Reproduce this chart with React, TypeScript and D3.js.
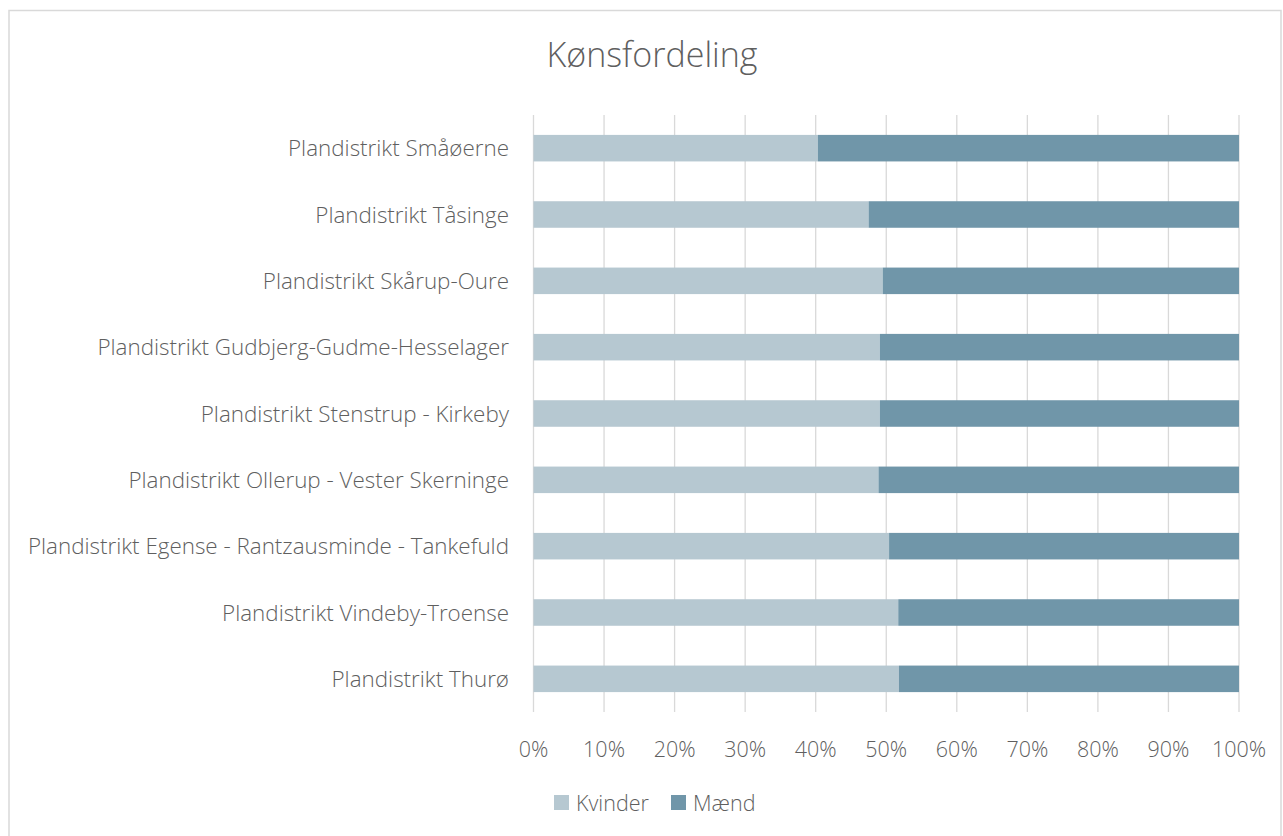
import React from "react";
import * as d3 from "d3";

const categories = [
  "Plandistrikt Småøerne",
  "Plandistrikt Tåsinge",
  "Plandistrikt Skårup-Oure",
  "Plandistrikt Gudbjerg-Gudme-Hesselager",
  "Plandistrikt Stenstrup - Kirkeby",
  "Plandistrikt Ollerup - Vester Skerninge",
  "Plandistrikt Egense - Rantzausminde - Tankefuld",
  "Plandistrikt Vindeby-Troense",
  "Plandistrikt Thurø",
];
const kvinder = [0.403, 0.475, 0.495, 0.491, 0.491, 0.489, 0.504, 0.517, 0.518];
const maend = kvinder.map((k) => 1 - k);
const ticks = [0, 0.1, 0.2, 0.3, 0.4, 0.5, 0.6, 0.7, 0.8, 0.9, 1];
const seriesNames = ["Kvinder", "Mænd"];
const colors = ["#B6C8D1", "#7096A9"];

export default function App() {
  const W = 1283, H = 836;
  const x = d3.scaleLinear().domain([0, 1]).range([533.5, 1239]);
  const y = d3.scaleBand().domain(categories).range([115, 712]).paddingInner(0.6).paddingOuter(0.3);
  const font = "'Open Sans', 'Noto Sans', sans-serif";
  const textColor = "#5f5f5f";
  const fs = 21.5;
  const stacked = categories.map((c, i) => ({ c, k: kvinder[i], m: maend[i] }));
  return (
    <svg width={W} height={H} style={{ position: "absolute", left: 0, top: 0 }}>
      <rect x={0} y={0} width={W} height={H} fill="#fff" />
      <rect x={9} y={10.5} width={1272} height={830} fill="#fff" stroke="#d9d9d9" strokeWidth={1.5} />
      <text x={652} y={67} textAnchor="middle" fontFamily={font} fontSize={34} fontWeight={300} fill={textColor}>
        Kønsfordeling
      </text>
      {ticks.map((t) => (
        <line key={t} x1={x(t)} x2={x(t)} y1={115} y2={712} stroke="#d9d9d9" strokeWidth={1.3} />
      ))}
      {stacked.map((d) => (
        <g key={d.c}>
          <rect x={x(0)} y={y(d.c)!} width={x(d.k) - x(0)} height={y.bandwidth()} fill={colors[0]} />
          <rect x={x(d.k)} y={y(d.c)!} width={x(d.k + d.m) - x(d.k)} height={y.bandwidth()} fill={colors[1]} />
          <text x={509} y={y(d.c)! + y.bandwidth() / 2 + 8} textAnchor="end" fontFamily={font} fontSize={22.4} fontWeight={300} fill={textColor}>
            {d.c}
          </text>
        </g>
      ))}
      {ticks.map((t) => (
        <text key={"l" + t} x={x(t)} y={757} textAnchor="middle" fontFamily={font} fontSize={fs} fontWeight={300} fill={textColor}>
          {d3.format(".0%")(t)}
        </text>
      ))}
      <g>
        <rect x={554} y={795} width={15} height={15} fill={colors[0]} />
        <text x={576} y={811} fontFamily={font} fontSize={fs} fontWeight={300} fill={textColor}>{seriesNames[0]}</text>
        <rect x={671} y={795} width={15} height={15} fill={colors[1]} />
        <text x={693} y={811} fontFamily={font} fontSize={fs} fontWeight={300} fill={textColor}>{seriesNames[1]}</text>
      </g>
    </svg>
  );
}
